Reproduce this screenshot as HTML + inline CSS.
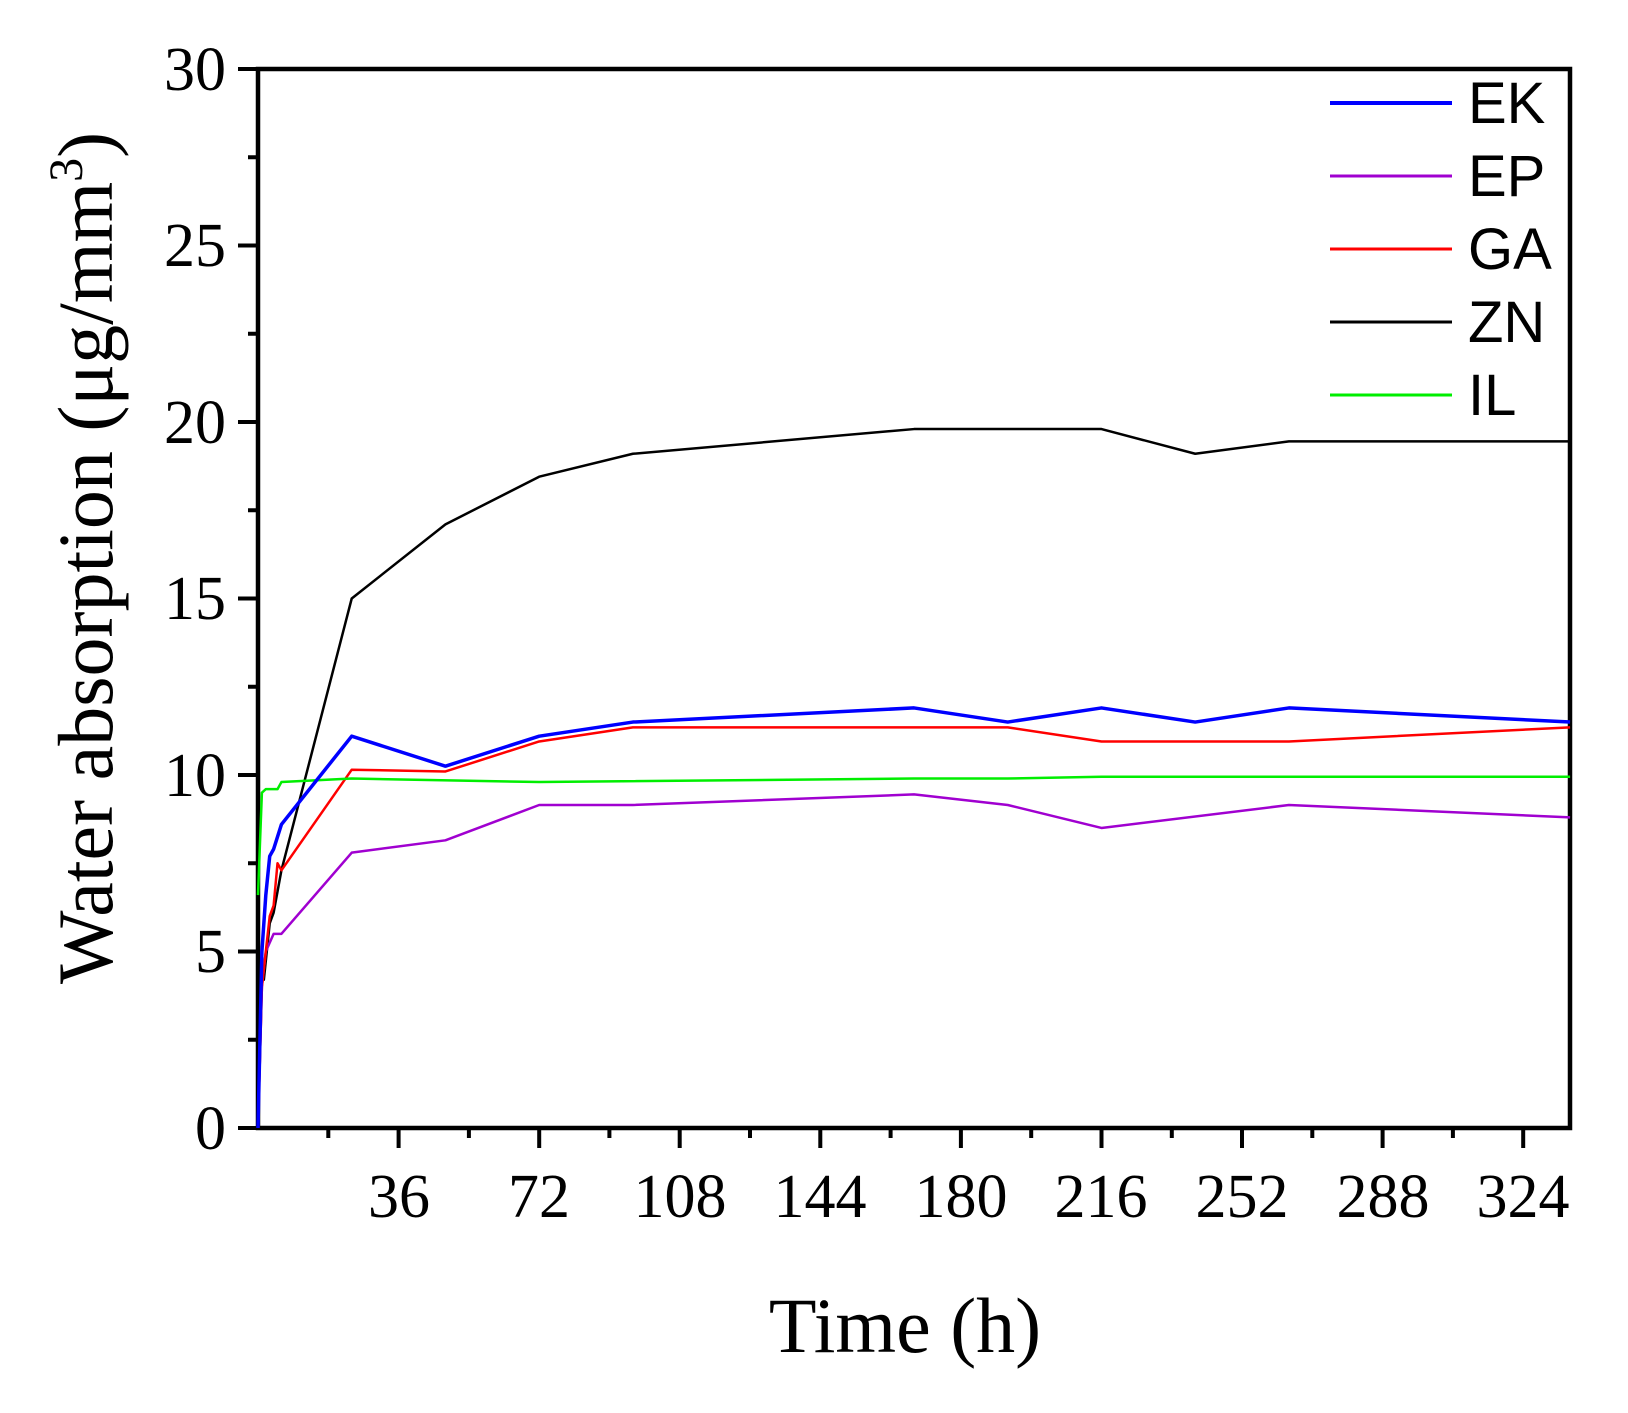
<!DOCTYPE html>
<html><head><meta charset="utf-8"><style>body{margin:0;background:#fff}</style></head><body>
<svg width="1628" height="1408" xmlns="http://www.w3.org/2000/svg">
<rect width="1628" height="1408" fill="#fff"/>
<g font-family="Liberation Serif, serif" font-size="62" fill="#000">
<g text-anchor="end">
<text x="226" y="1149">0</text><text x="226" y="972">5</text><text x="226" y="796">10</text>
<text x="226" y="619">15</text><text x="226" y="443">20</text><text x="226" y="266">25</text><text x="226" y="90">30</text>
</g>
<g text-anchor="middle">
<text x="399" y="1217">36</text><text x="539" y="1217">72</text><text x="680" y="1217">108</text>
<text x="820" y="1217">144</text><text x="961" y="1217">180</text><text x="1101" y="1217">216</text>
<text x="1242" y="1217">252</text><text x="1383" y="1217">288</text><text x="1523" y="1217">324</text>
</g>
<text x="905" y="1352" font-size="78" text-anchor="middle">Time (h)</text>
<text transform="translate(112,558) rotate(-90)" font-size="78" text-anchor="middle">Water absorption (μg/mm<tspan font-size="48" dy="-30">3</tspan><tspan dy="30">)</tspan></text>
</g>
<g stroke="#000" stroke-width="4.5" fill="none">
<path d="M258,69H1570V1128H258Z"/>
</g>
<g stroke="#000" stroke-width="4" fill="none">
<path d="M258,1128h-20M258,951.5h-20M258,775h-20M258,598.5h-20M258,422h-20M258,245.5h-20M258,69h-20
M258,1039.75h-10M258,863.25h-10M258,686.75h-10M258,510.25h-10M258,333.75h-10M258,157.25h-10"/>
<path d="M398.6,1128v20M539.2,1128v20M679.7,1128v20M820.3,1128v20M960.9,1128v20M1101.5,1128v20M1242,1128v20M1382.6,1128v20M1523.2,1128v20
M328.3,1128v10M468.9,1128v10M609.4,1128v10M750,1128v10M890.6,1128v10M1031.2,1128v10M1171.8,1128v10M1312.3,1128v10M1452.9,1128v10"/>
</g>
<g fill="none" stroke-linejoin="round" transform="translate(258,1128) scale(3.905,-35.3)">
<polyline vector-effect="non-scaling-stroke" stroke="#000" stroke-width="2.5" points="0,0 0.5,4.2 1.5,4.2 3,5.8 4,6.1 6,7.3 24,15 48,17.1 72,18.45 96,19.1 168,19.8 192,19.8 216,19.8 240,19.1 264,19.45 336,19.45"/>
<polyline vector-effect="non-scaling-stroke" stroke="#a000d0" stroke-width="2.5" points="0,0 1,4 2,5 4,5.5 6,5.5 24,7.8 48,8.15 72,9.15 96,9.15 168,9.45 192,9.15 216,8.5 264,9.15 336,8.8"/>
<polyline vector-effect="non-scaling-stroke" stroke="#ff0000" stroke-width="2.5" points="0,0 1,4 3,6 4,6.3 5,7.5 6,7.3 24,10.15 48,10.1 72,10.95 96,11.35 192,11.35 216,10.95 264,10.95 336,11.35"/>
<polyline vector-effect="non-scaling-stroke" stroke="#00ee00" stroke-width="2.5" points="0,6.6 1,9.5 2,9.6 5,9.6 6,9.8 24,9.9 72,9.8 168,9.9 192,9.9 216,9.95 336,9.95"/>
<polyline vector-effect="non-scaling-stroke" stroke="#0000ff" stroke-width="3.5" points="0,0 1,5 2,6.6 3,7.7 4,7.9 6,8.6 24,11.1 48,10.25 72,11.1 96,11.5 168,11.9 192,11.5 216,11.9 240,11.5 264,11.9 336,11.5"/>
</g>
<g stroke-width="3">
<line x1="1330" y1="103" x2="1452" y2="103" stroke="#0000ff" stroke-width="4"/>
<line x1="1330" y1="176" x2="1452" y2="176" stroke="#a000d0"/>
<line x1="1330" y1="249" x2="1452" y2="249" stroke="#ff0000"/>
<line x1="1330" y1="322" x2="1452" y2="322" stroke="#000"/>
<line x1="1330" y1="395" x2="1452" y2="395" stroke="#00ee00"/>
</g>
<g font-family="Liberation Sans, sans-serif" font-size="58" fill="#000">
<text x="1468" y="123">EK</text><text x="1468" y="196">EP</text><text x="1468" y="269">GA</text>
<text x="1468" y="342">ZN</text><text x="1468" y="415">IL</text>
</g>
</svg>
</body></html>
